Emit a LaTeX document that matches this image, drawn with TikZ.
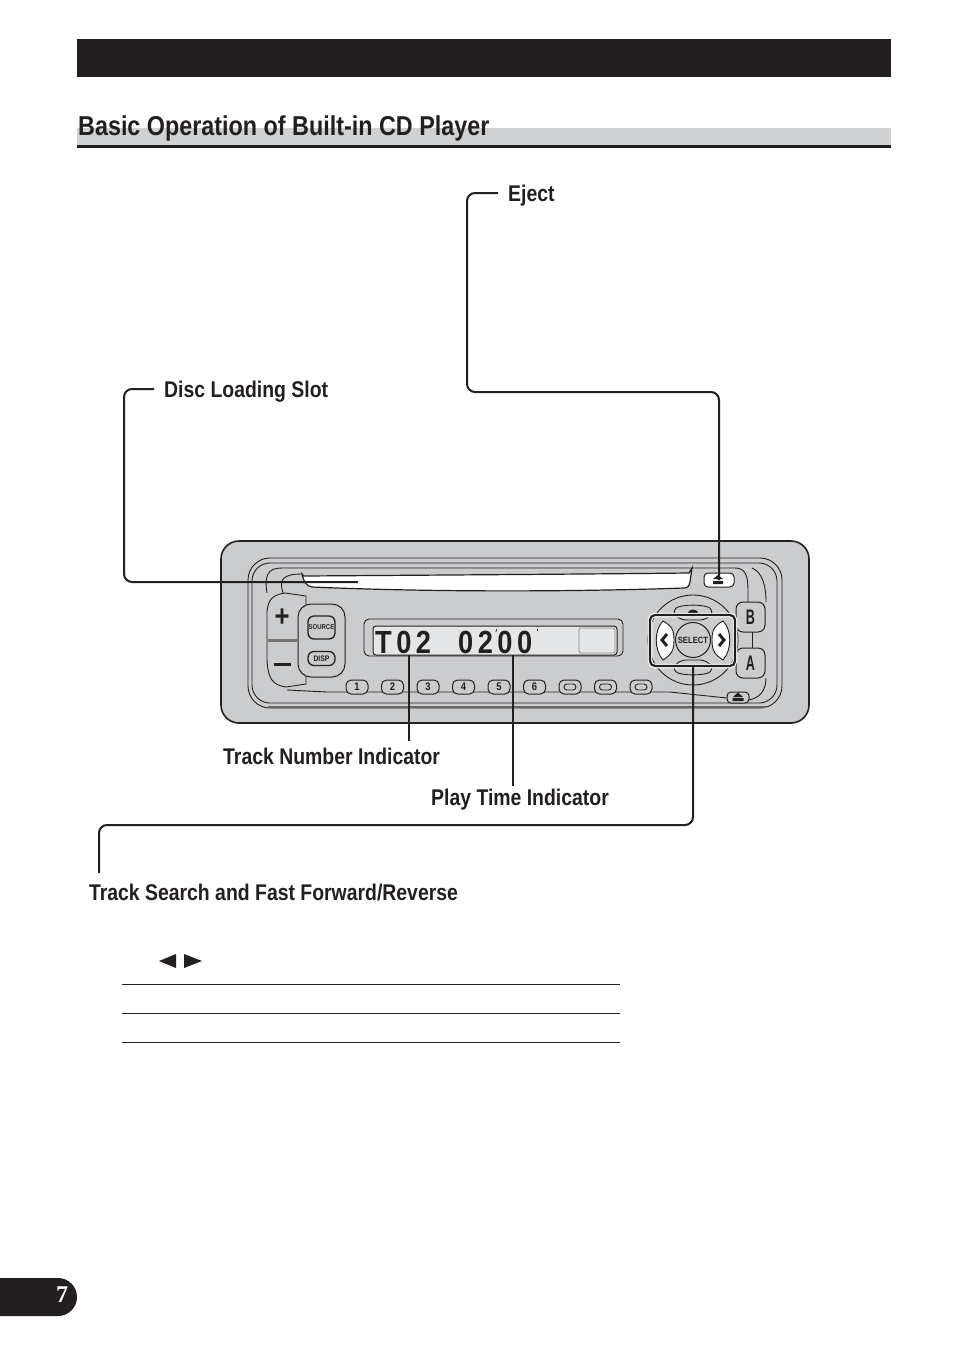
\documentclass[tikz,border=0pt]{standalone}
\usepackage{fontspec}
\setmainfont[FakeStretch=0.855]{Liberation Sans}
\newfontfamily\lcdfont[FakeStretch=0.85,LetterSpace=14]{Liberation Sans}
\newfontfamily\keyfont[FakeStretch=0.6]{Liberation Sans}
\newfontfamily\pagefont{Liberation Serif}
\usepackage{xcolor}
\usetikzlibrary{positioning,calc,shapes.geometric}
\definecolor{inkc}{RGB}{35,31,32}
\definecolor{bandc}{RGB}{208,209,211}
\definecolor{bodyc}{RGB}{203,204,206}
\definecolor{lcdc}{RGB}{228,229,230}
\tikzset{
  leader/.style={line width=2pt,inkc,rounded corners=8pt},
  callout/.style={anchor=west,inner xsep=10pt,inner ysep=0pt,font=\bfseries\fontsize{22.7}{23}\selectfont,text=inkc},
  rim/.style={draw=inkc,line width=0.9pt},
  btn/.style={draw=inkc,line width=1pt,fill=bodyc,rounded corners=4pt,inner sep=0pt,text=inkc},
  numkey/.style={btn,minimum width=22pt,minimum height=14pt,rounded corners=5pt,font=\bfseries\fontsize{11}{11}\selectfont},
  side/.style={btn,minimum width=29pt,minimum height=30pt,rounded corners=7pt,font=\keyfont\bfseries\fontsize{21}{21}\selectfont},
  petal/.style={draw=inkc,line width=0.9pt,fill=white},
  chevron/.style={line width=3pt,inkc},
  rulebar/.style={line width=1pt,inkc},
}
\begin{document}
\begin{tikzpicture}[x=1pt,y=-1pt,node distance=12.5pt]
  \fill[white] (0,0) rectangle (954,1355);
  \useasboundingbox (0,0) rectangle (954,1355);
  % page head
  \fill[inkc] (77,39) rectangle (891,77);
  \fill[bandc] (77,128) rectangle (891,145);
  \fill[inkc] (77,144.5) rectangle (891,147.5);
  \node[anchor=base west,inner sep=0pt,font=\bfseries\fontsize{27.3}{28}\selectfont,text=inkc] (title) at (78,135) {Basic Operation of Built-in CD Player};
  % unit body
  \draw[line width=1.6pt,inkc,fill=bodyc,rounded corners=18pt] (221,541) rectangle (809,723);
  \draw[rim,rounded corners=22pt] (248,558) rectangle (782,708);
  \draw[rim,rounded corners=18pt] (252,563) rectangle (777,703);
  \draw[line width=1.6pt,black!60] (268,707) -- (766,707);
  \draw[rim] (267,593) .. controls (264,575) and (268,568) .. (282,568) -- (735,568) .. controls (745,568) and (748,575) .. (748,590) -- (748,602);
  \draw[rim] (766,602) .. controls (766,585) and (762,572) .. (752,568);
  \draw[rim] (766,678) .. controls (766,690) and (760,698) .. (749,700);
  \draw[rim] (283,593) .. controls (279,580) and (282,574) .. (302,574);
  % slot
  \draw[rim,line width=1.2pt,fill=white] (302,574) -- (304,576) .. controls (450,575) and (600,574) .. (689,573) -- (692,568) -- (690,582) .. controls (689,586) and (688,588) .. (684,588) .. controls (600,591) and (450,593) .. (312,587) .. controls (306,586) and (304,582) .. (302,574) -- cycle;
  \node[btn,fill=white,minimum width=30pt,minimum height=14pt] (ejectkey) at (719,580) {};
  \fill[inkc] (713,579) -- (718,575) -- (723,579) -- cycle (713,581) rectangle (723,584);
  % volume and source
  \draw[rim,fill=bodyc] (285,593) .. controls (272,595) and (268,600) .. (267,612) -- (267,660) .. controls (268,678) and (272,685) .. (286,687) -- (306,684) -- (306,596) -- cycle;
  \draw[line width=3pt,black!55] (268,640) -- (297,640);
  \node[inner sep=0pt,font=\bfseries\fontsize{30}{30}\selectfont,text=inkc] (plus) at (282,618) {+};
  \fill[inkc] (274,662.5) rectangle (291,665.5);
  \node[btn,minimum width=47pt,minimum height=73pt,rounded corners=13pt] (srcgroup) at (321.5,640.5) {};
  \node[btn,line width=1.3pt,minimum width=27pt,minimum height=23pt,rounded corners=6pt,font=\bfseries\fontsize{7}{7}\selectfont] (source) at (321.5,627.5) {SOURCE};
  \node[btn,line width=1.3pt,minimum width=27pt,minimum height=14pt,rounded corners=6pt,font=\bfseries\fontsize{8}{8}\selectfont] (disp) at (321.5,658.5) {DISP};
  % display
  \draw[rim,rounded corners=5pt] (364,619) rectangle (623,656);
  \node[draw=inkc,line width=1pt,fill=lcdc,rounded corners=3pt,minimum width=244pt,minimum height=29pt,inner sep=0pt] (lcd) at (495,640.5) {};
  \node[anchor=base west,inner sep=0pt,font=\lcdfont\bfseries\fontsize{32}{32}\selectfont,text=inkc] (track) at (375,653) {T02};
  \node[anchor=base west,inner sep=0pt,font=\lcdfont\bfseries\fontsize{32}{32}\selectfont,text=inkc] (time) at (458,653) {0200};
  \draw[inkc,line width=0.8pt] (496.5,629) -- (496,632) (537.5,629) -- (537.5,631);
  \node[draw=black!45,line width=0.8pt,rounded corners=2pt,minimum width=36pt,minimum height=25pt,inner sep=0pt] (lcdbox) at (597,640.5) {};
  % preset keys
  \draw[rim] (287,690) -- (327,692) -- (670,692) -- (727,698);
  \node[numkey] (k1) at (357,687) {1};
  \node[numkey,right=of k1] (k2) {2};
  \node[numkey,right=of k2] (k3) {3};
  \node[numkey,right=of k3] (k4) {4};
  \node[numkey,right=of k4] (k5) {5};
  \node[numkey,right=of k5] (k6) {6};
  \node[numkey,right=of k6] (k7) {};
  \node[numkey,right=of k7] (k8) {};
  \node[numkey,right=of k8] (k9) {};
  \draw[rim,rounded corners=3pt] ($(k7)+(-6,-3)$) rectangle ($(k7)+(6,3)$);
  \draw[rim,rounded corners=3pt] ($(k8)+(-6,-3)$) rectangle ($(k8)+(6,3)$);
  \draw[rim,rounded corners=3pt] ($(k9)+(-6,-3)$) rectangle ($(k9)+(6,3)$);
  % side keys
  \node[side] (bkey) at (750.5,617) {B};
  \node[side] (akey) at (750.5,663) {A};
  \draw[rim] (752,632) -- (752,648);
  \node[btn,minimum width=22pt,minimum height=11pt,rounded corners=4pt] (openkey) at (738,697.5) {};
  \fill[inkc] (733,697) -- (738,692.5) -- (743,697) -- cycle (732.5,698) rectangle (743.5,701);
  % cross pad
  \node[circle,draw=inkc,line width=0.9pt,fill=bodyc,minimum size=90pt,inner sep=0pt] (pad) at (693,640) {};
  \draw[rim,fill=bodyc,rounded corners=5pt] (672,612) .. controls (680,604) and (706,604) .. (714,612) -- (705,620) -- (681,620) -- cycle;
  \draw[rim,fill=bodyc,rounded corners=5pt] (672,668) .. controls (680,676) and (706,676) .. (714,668) -- (705,660) -- (681,660) -- cycle;
  \fill[inkc] (687,614) .. controls (689,608) and (697,608) .. (699,614) -- cycle;
  \draw[petal] (663,621) .. controls (654,630) and (654,650) .. (663,660) .. controls (672,654) and (674,650) .. (674,640) .. controls (674,630) and (672,626) .. (663,621) -- cycle;
  \draw[petal] (723,621) .. controls (732,630) and (732,650) .. (723,660) .. controls (714,654) and (712,650) .. (712,640) .. controls (712,630) and (714,626) .. (723,621) -- cycle;
  \draw[chevron] (667,634) -- (662,640) -- (667,646);
  \draw[chevron] (719,634) -- (724,640) -- (719,646);
  \node[circle,draw=inkc,line width=1pt,fill=bodyc,minimum size=35pt,inner sep=0pt,font=\bfseries\fontsize{9}{9}\selectfont,text=inkc] (select) at (693,640) {SELECT};
  \node[draw=white,line width=4.5pt,rounded corners=5pt,minimum width=85pt,minimum height=51pt,inner sep=0pt] (padhalo) at (692.5,640.5) {};
  \node[draw=inkc,line width=2.2pt,rounded corners=5pt,minimum width=85pt,minimum height=51pt,inner sep=0pt] (padbox) at (692.5,640.5) {};
  % callouts
  \node[callout] (ejectlbl) at (498,196) {Eject};
  \node[callout] (slotlbl) at (154,392) {Disc Loading Slot};
  \node[callout,anchor=north west,inner xsep=0pt] (tracklbl) at (223,748) {Track Number Indicator};
  \node[callout,anchor=north west,inner xsep=0pt] (timelbl) at (431,789) {Play Time Indicator};
  \node[callout,anchor=north,inner xsep=0pt] (searchlbl) at (273.5,884) {Track Search and Fast Forward/Reverse};
  \coordinate (ejecttop) at (498,193);
  \coordinate (ejectbend) at (467,392);
  \coordinate (slottop) at (154,389);
  \coordinate (slotbend) at (124,582);
  \coordinate (slotend) at (358,582);
  \coordinate (trackend) at (409,655);
  \coordinate (timeend) at (513,655);
  \coordinate (trackfoot) at (409,741);
  \coordinate (timefoot) at (513,786);
  \coordinate (searchbend) at (693,825);
  \coordinate (searchend) at (99,873);
  \draw[leader] (ejecttop) -| (ejectbend) -| (ejectkey.center);
  \draw[leader] (slottop) -| (slotbend) -- (slotend);
  \draw[leader] (trackend) -- (trackfoot);
  \draw[leader] (timeend) -- (timefoot);
  \draw[leader] (padbox.south -| searchbend) -- (searchbend) -| (searchend);
  % search note
  \fill[inkc] (159,961) -- (176,954) -- (176,968) -- cycle (202,961) -- (184,954) -- (184,968) -- cycle;
  \draw[rulebar] (122,984.5) -- (620,984.5);
  \draw[rulebar] (122,1013.5) -- (620,1013.5);
  \draw[rulebar] (122,1042.5) -- (620,1042.5);
  % page tab
  \fill[inkc,rounded corners=19pt] (-30,1278) rectangle (77,1316);
  \node[inner sep=0pt,text=white,font=\pagefont\bfseries\fontsize{24}{24}\selectfont] (pageno) at (62,1295) {7};
\end{tikzpicture}
\end{document}
